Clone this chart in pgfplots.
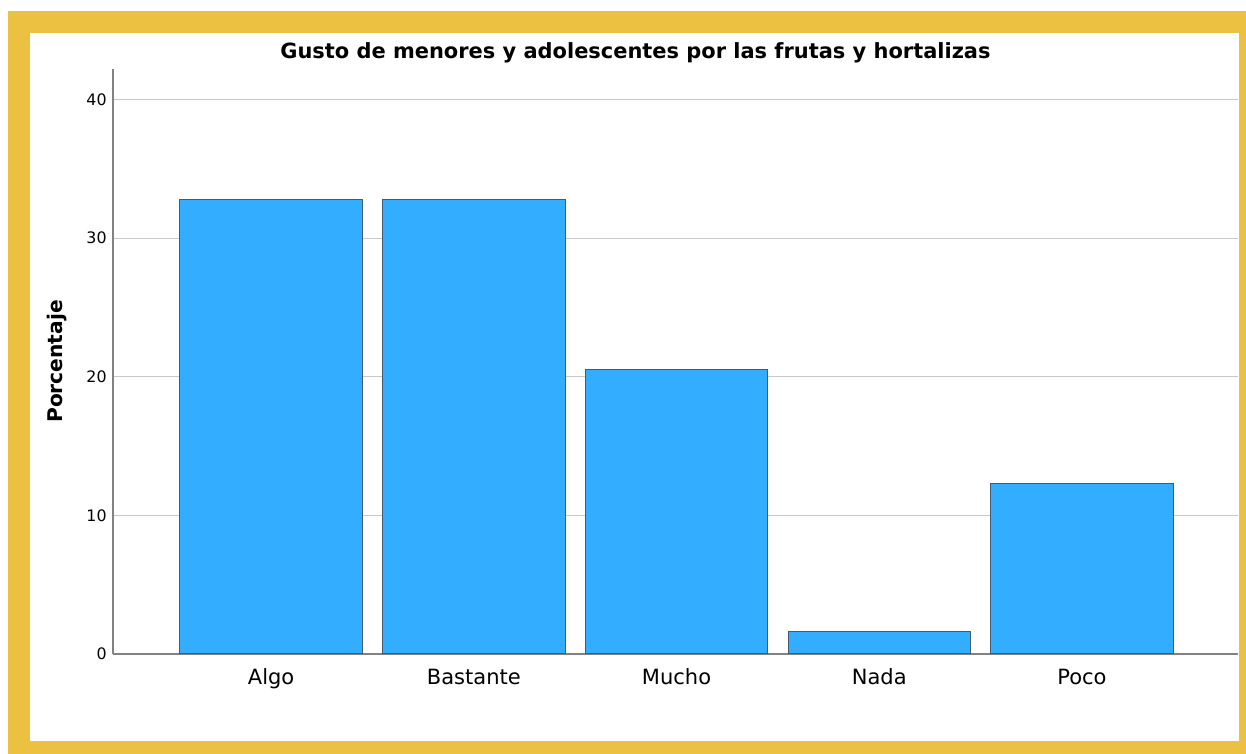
\documentclass[border=0pt]{standalone}
\usepackage{pgfplots}
\pgfplotsset{compat=1.18}
\usepackage{fontspec}
\setmainfont{DejaVu Sans}
\definecolor{frameyellow}{RGB}{236,193,66}
\definecolor{barblue}{RGB}{51,173,255}
\definecolor{baredge}{RGB}{70,90,110}
\definecolor{gridgray}{RGB}{200,200,200}
\definecolor{axisgray}{RGB}{130,130,130}
\begin{document}
\begin{tikzpicture}
\path[use as bounding box] (-56.5pt,-50pt) rectangle (566.5pt,327pt);
\fill[frameyellow] (-52.5pt,-50pt) rectangle (566.5pt,321.5pt);
\fill[white] (-41.5pt,-43.35pt) rectangle (562.85pt,310.5pt);
\begin{axis}[
  at={(0pt,0pt)}, anchor=south west,
  width=562.5pt, height=292.5pt, scale only axis,
  clip=false,
  ybar, bar width=0.9,
  xmin=-0.78, xmax=4.77,
  ymin=0, ymax=42.2,
  xtick={0,1,2,3,4},
  xticklabels={Algo,Bastante,Mucho,Nada,Poco},
  ytick={0,10,20,30,40},
  major tick length=0pt,
  axis x line=bottom, axis y line=left,
  axis line style={-, draw=axisgray, line width=0.7pt},
  ymajorgrids, grid style={gridgray, line width=0.6pt},
  xticklabel style={anchor=base, yshift=-15pt, font=\fontsize{10.5}{12}\selectfont},
  yticklabel style={anchor=east, inner sep=0pt, xshift=-3pt, font=\fontsize{7.9}{9}\selectfont},
  /pgf/number format/assume math mode=true,
  ylabel={Porcentaje},
  ylabel style={at={(axis description cs:-0.0498,0.5)}, anchor=center, font=\fontsize{10.1}{12}\selectfont\bfseries},
]
\addplot[fill=barblue, draw=baredge, line width=0.5pt] coordinates {(0,32.8) (1,32.8) (2,20.5) (3,1.6) (4,12.3)};
\node[anchor=center, inner sep=0pt, font=\fontsize{10.47}{12}\selectfont\bfseries] at (rel axis cs:0.4644,1.0274) {Gusto de menores y adolescentes por las frutas y hortalizas};
\end{axis}
\end{tikzpicture}
\end{document}
